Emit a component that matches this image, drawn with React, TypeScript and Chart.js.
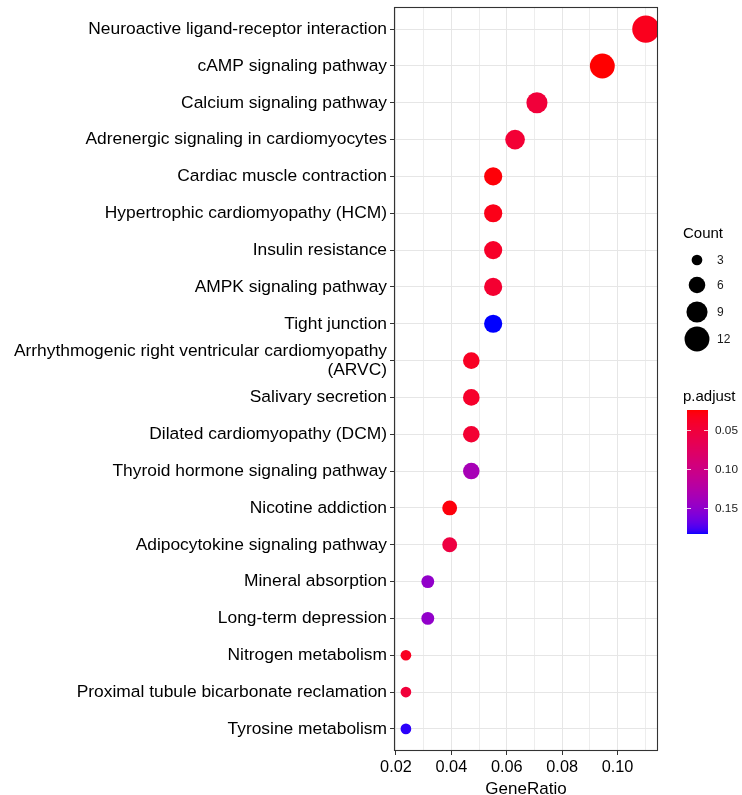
import React, { useEffect, useRef } from "react";
import { Chart, registerables } from "chart.js";

Chart.register(...registerables);

const pathways: (string | string[])[] = [
  "Neuroactive ligand-receptor interaction",
  "cAMP signaling pathway",
  "Calcium signaling pathway",
  "Adrenergic signaling in cardiomyocytes",
  "Cardiac muscle contraction",
  "Hypertrophic cardiomyopathy (HCM)",
  "Insulin resistance",
  "AMPK signaling pathway",
  "Tight junction",
  ["Arrhythmogenic right ventricular cardiomyopathy", "(ARVC)"],
  "Salivary secretion",
  "Dilated cardiomyopathy (DCM)",
  "Thyroid hormone signaling pathway",
  "Nicotine addiction",
  "Adipocytokine signaling pathway",
  "Mineral absorption",
  "Long-term depression",
  "Nitrogen metabolism",
  "Proximal tubule bicarbonate reclamation",
  "Tyrosine metabolism",
];

const geneRatio = [
  0.1102, 0.0945, 0.0709, 0.063, 0.0551, 0.0551, 0.0551, 0.0551, 0.0551, 0.0472,
  0.0472, 0.0472, 0.0472, 0.0394, 0.0394, 0.0315, 0.0315, 0.0236, 0.0236, 0.0236,
];

const counts = [14, 12, 9, 8, 7, 7, 7, 7, 7, 6, 6, 6, 6, 5, 5, 4, 4, 3, 3, 3];

const pAdjust = [
  0.034, 0.025, 0.05, 0.047, 0.027, 0.032, 0.04, 0.045, 0.1827, 0.037,
  0.041, 0.046, 0.135, 0.028, 0.055, 0.148, 0.148, 0.036, 0.05, 0.18,
];

const xTicks = [0.02, 0.03, 0.04, 0.05, 0.06, 0.07, 0.08, 0.09, 0.1, 0.11];
const countLegend = [3, 6, 9, 12];
const pLegend = [0.05, 0.1, 0.15];

const FONT = "'Liberation Sans', Arial, sans-serif";

// ---- colour helpers (Lab interpolation like ggplot) ----
function srgbToLin(c: number) {
  c /= 255;
  return c <= 0.04045 ? c / 12.92 : Math.pow((c + 0.055) / 1.055, 2.4);
}
function linToSrgb(c: number) {
  const v = c <= 0.0031308 ? 12.92 * c : 1.055 * Math.pow(c, 1 / 2.4) - 0.055;
  return Math.max(0, Math.min(255, Math.round(v * 255)));
}
function rgbToLab(rgb: number[]) {
  const r = srgbToLin(rgb[0]), g = srgbToLin(rgb[1]), b = srgbToLin(rgb[2]);
  const X = (0.4124 * r + 0.3576 * g + 0.1805 * b) / 0.95047;
  const Y = 0.2126 * r + 0.7152 * g + 0.0722 * b;
  const Z = (0.0193 * r + 0.1192 * g + 0.9505 * b) / 1.08883;
  const f = (t: number) => (t > 0.008856 ? Math.cbrt(t) : 7.787 * t + 16 / 116);
  const fx = f(X), fy = f(Y), fz = f(Z);
  return [116 * fy - 16, 500 * (fx - fy), 200 * (fy - fz)];
}
function labToRgb(lab: number[]) {
  const fy = (lab[0] + 16) / 116;
  const fx = fy + lab[1] / 500;
  const fz = fy - lab[2] / 200;
  const fi = (t: number) => (t * t * t > 0.008856 ? t * t * t : (t - 16 / 116) / 7.787);
  const X = fi(fx) * 0.95047, Y = fi(fy), Z = fi(fz) * 1.08883;
  const r = 3.2406 * X - 1.5372 * Y - 0.4986 * Z;
  const g = -0.9689 * X + 1.8758 * Y + 0.0415 * Z;
  const b = 0.0557 * X - 0.204 * Y + 1.057 * Z;
  return `rgb(${linToSrgb(r)},${linToSrgb(g)},${linToSrgb(b)})`;
}
const LAB_LOW = rgbToLab([255, 0, 0]);
const LAB_HIGH = rgbToLab([0, 0, 255]);
const P_MIN = Math.min(...pAdjust);
const P_MAX = Math.max(...pAdjust);
function colourFor(p: number) {
  const t = Math.max(0, Math.min(1, (p - P_MIN) / (P_MAX - P_MIN)));
  return labToRgb([0, 1, 2].map((i) => LAB_LOW[i] + (LAB_HIGH[i] - LAB_LOW[i]) * t));
}
function radiusFor(c: number) {
  return 5.35 + 4.1 * (Math.sqrt(c) - Math.sqrt(3));
}
const isMajor = (v: number) => Math.abs(v * 50 - Math.round(v * 50)) < 1e-6;
const zeroPadding = () => ({ left: 0, top: 0, right: 0, bottom: 0 });

const decorPlugin = {
  id: "decor",
  afterDraw(chart: any) {
    const ctx = chart.ctx as CanvasRenderingContext2D;
    const a = chart.chartArea;
    ctx.save();
    // panel border
    ctx.strokeStyle = "#333333";
    ctx.lineWidth = 1.1;
    ctx.strokeRect(a.left + 0.5, a.top + 0.5, a.right - a.left - 1, a.bottom - a.top - 1);

    // Count legend
    ctx.fillStyle = "#000";
    ctx.font = `15px ${FONT}`;
    ctx.textAlign = "left";
    ctx.textBaseline = "middle";
    ctx.fillText("Count", 683, 234);
    const ys = [260, 285, 312, 339];
    countLegend.forEach((c, i) => {
      ctx.beginPath();
      ctx.arc(697, ys[i], radiusFor(c), 0, Math.PI * 2);
      ctx.fillStyle = "#000";
      ctx.fill();
      ctx.fillStyle = "#1a1a1a";
      ctx.font = `12px ${FONT}`;
      ctx.fillText(String(c), 717, ys[i] + 1);
    });

    // p.adjust colour bar
    ctx.fillStyle = "#000";
    ctx.font = `15px ${FONT}`;
    ctx.fillText("p.adjust", 683, 397);
    const barL = 687, barR = 708, barT = 410, barB = 534;
    for (let y = barT; y < barB; y++) {
      const p = P_MIN + ((y + 0.5 - barT) / (barB - barT)) * (P_MAX - P_MIN);
      ctx.fillStyle = colourFor(p);
      ctx.fillRect(barL, y, barR - barL, 1);
    }
    pLegend.forEach((p) => {
      const y = Math.round(barT + ((p - P_MIN) / (P_MAX - P_MIN)) * (barB - barT)) + 0.5;
      ctx.strokeStyle = "rgba(255,255,255,0.8)";
      ctx.lineWidth = 1;
      ctx.beginPath();
      ctx.moveTo(barL, y);
      ctx.lineTo(barL + 4, y);
      ctx.moveTo(barR - 4, y);
      ctx.lineTo(barR, y);
      ctx.stroke();
      ctx.fillStyle = "#1a1a1a";
      ctx.font = `11.8px ${FONT}`;
      ctx.fillText(p.toFixed(2), 715, y + 0.5);
    });
    ctx.restore();
  },
};

export default function App() {
  const ref = useRef<HTMLCanvasElement>(null);
  useEffect(() => {
    if (!ref.current) return;
    const points = pathways.map((_, i) => ({ x: geneRatio[i], y: i }));
    const chart = new Chart(ref.current, {
      type: "scatter",
      data: {
        datasets: [
          {
            data: points,
            pointRadius: counts.map(radiusFor),
            pointHoverRadius: counts.map(radiusFor),
            backgroundColor: pAdjust.map(colourFor),
            borderWidth: 0,
            pointBorderWidth: 0,
          },
        ],
      },
      options: {
        responsive: false,
        animation: false,
        events: [],
        layout: { autoPadding: false, padding: { top: 7, right: 84, left: 0, bottom: 0 } },
        plugins: { legend: { display: false }, tooltip: { enabled: false } },
        scales: {
          x: {
            type: "linear",
            min: 0.0193,
            max: 0.1146,
            afterBuildTicks: (scale: any) => {
              scale.ticks = xTicks.map((v) => ({ value: v }));
            },
            afterFit: (scale: any) => {
              scale.height = 44;
              scale.paddingLeft = 0;
              scale.paddingRight = 0;
              scale.getPadding = zeroPadding;
            },
            grid: {
              color: (c: any) => (c.tick && isMajor(c.tick.value) ? "#E6E6E6" : "#EDEDED"),
              lineWidth: 1,
              tickLength: 4,
              tickColor: (c: any) => (c.tick && isMajor(c.tick.value) ? "#333333" : "rgba(0,0,0,0)"),
            },
            border: { display: false },
            ticks: {
              autoSkip: false,
              maxRotation: 0,
              padding: 3,
              color: "#000",
              font: { family: FONT, size: 16.3 },
              callback: (v: any) => (isMajor(Number(v)) ? Number(v).toFixed(2) : ""),
            },
            title: {
              display: true,
              text: "GeneRatio",
              color: "#000",
              font: { family: FONT, size: 17 },
              padding: { top: 0, bottom: -5 },
            },
          },
          y: {
            type: "linear",
            min: -0.6,
            max: 19.6,
            reverse: true,
            afterBuildTicks: (scale: any) => {
              scale.ticks = pathways.map((_, i) => ({ value: i }));
            },
            afterFit: (scale: any) => {
              scale.width = 394;
              scale.paddingTop = 0;
              scale.paddingBottom = 0;
              scale.getPadding = zeroPadding;
            },
            grid: {
              color: "#E6E6E6",
              lineWidth: 1,
              tickLength: 4,
              tickColor: "#333333",
            },
            border: { display: false },
            ticks: {
              autoSkip: false,
              padding: 3,
              color: "#000",
              font: { family: FONT, size: 17.4, lineHeight: 1.13 },
              callback: (v: any) => pathways[Math.round(Number(v))] as any,
            },
          },
        },
      },
      plugins: [decorPlugin],
    } as any);
    return () => chart.destroy();
  }, []);
  return (
    <div style={{ position: "absolute", left: 0, top: 0, width: 742, height: 795, background: "#fff" }}>
      <canvas ref={ref} width={742} height={795} style={{ display: "block" }} />
    </div>
  );
}
